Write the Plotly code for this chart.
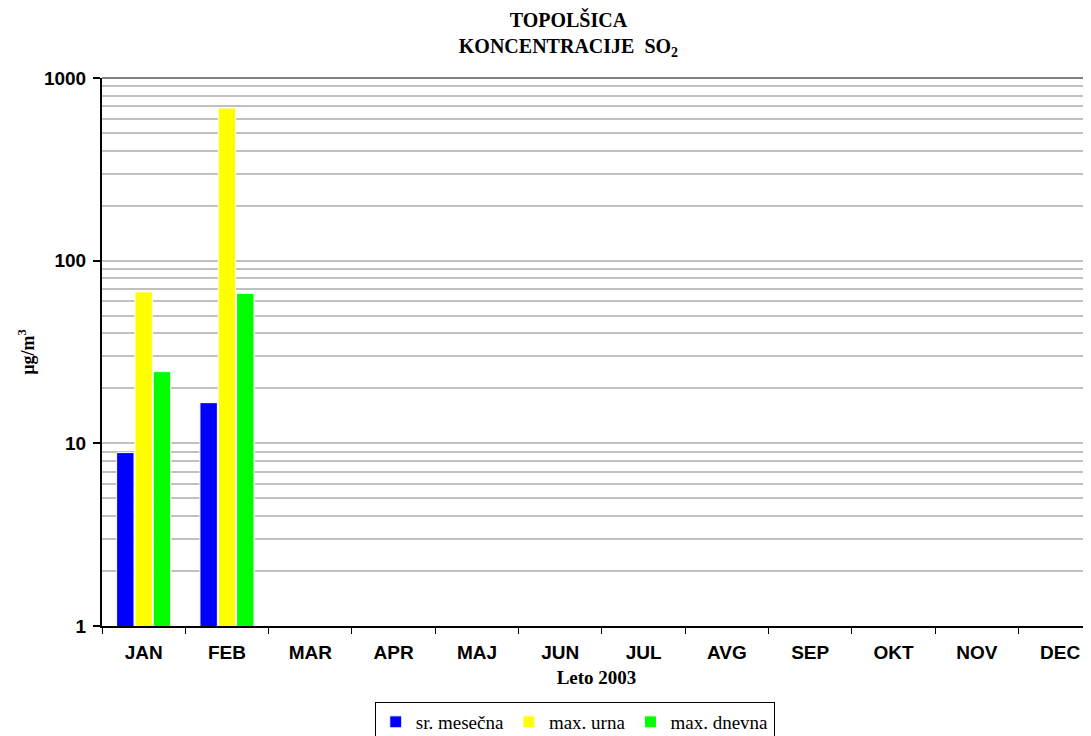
import plotly.graph_objects as go

MONTHS = ["JAN", "FEB", "MAR", "APR", "MAJ", "JUN", "JUL", "AVG", "SEP", "OKT", "NOV", "DEC"]
SR_MESECNA = [8.9, 16.7] + [None] * 10
MAX_URNA = [67.5, 685] + [None] * 10
MAX_DNEVNA = [24.7, 66.2] + [None] * 10

SERIES = [
    ("sr. mesečna", SR_MESECNA, "#0000FF"),
    ("max. urna", MAX_URNA, "#FFFF00"),
    ("max. dnevna", MAX_DNEVNA, "#00FF00"),
]

MINOR_VALS = [m * d for d in (1, 10, 100) for m in range(2, 10)]

SANS = "Arial, Liberation Sans, sans-serif"
SERIF = "Times New Roman, Liberation Serif, serif"

fig = go.Figure()
for name, vals, color in SERIES:
    fig.add_trace(go.Bar(
        name=name,
        x=MONTHS,
        y=vals,
        marker=dict(color=color, line=dict(color="white", width=1)),
    ))

# page body has an 8px margin, so the figure is a bit smaller than the window
fig.update_layout(
    width=1083,
    height=728,
    barmode="group",
    bargap=0.34,
    bargroupgap=0.05,
    plot_bgcolor="white",
    paper_bgcolor="white",
    margin=dict(l=94, r=0, t=70, b=110),
    title=dict(
        text="<b>TOPOLŠICA<br>KONCENTRACIJE  SO<sub>2</sub></b>",
        x=0.5175, xanchor="center", y=0.974, yanchor="top",
        font=dict(family=SERIF, size=20, color="black"),
    ),
    xaxis=dict(
        type="category",
        range=[-0.5, 11.37],
        showline=True, linecolor="black", linewidth=2,
        ticks="outside", ticklen=6, tickcolor="black", tickwidth=1,
        tickson="boundaries",
        ticklabelstandoff=8,
        showgrid=False,
        tickfont=dict(family=SANS, size=19, color="black", weight="bold"),
        title=dict(text="<b>Leto 2003</b>", standoff=9,
                   font=dict(family=SERIF, size=19, color="black")),
    ),
    yaxis=dict(
        type="log",
        range=[0, 3],
        tickvals=[1, 10, 100, 1000],
        ticktext=["1", "10", "100", "1000"],
        showline=True, linecolor="black", linewidth=2,
        ticks="outside", ticklen=7, tickcolor="black", tickwidth=2,
        ticklabelstandoff=3,
        showgrid=True, gridcolor="#c0c0c0", gridwidth=2,
        zeroline=False,
        tickfont=dict(family=SANS, size=19, color="black", weight="bold"),
        minor=dict(tickvals=MINOR_VALS, showgrid=True, gridcolor="#c0c0c0",
                   gridwidth=2, ticks=""),
        title=dict(text="<b>µg/m<sup>3</sup></b>", standoff=5,
                   font=dict(family=SERIF, size=18, color="black")),
    ),
    legend=dict(
        orientation="h",
        xref="paper", x=0.478, xanchor="center",
        yref="container", y=0.0467, yanchor="top",
        bordercolor="black", borderwidth=1,
        font=dict(family=SERIF, size=19, color="black"),
        itemwidth=30,
        tracegroupgap=0,
    ),
    showlegend=True,
)

# darker top border line at 1000
fig.add_shape(type="line", xref="paper", yref="paper", x0=0, x1=1, y0=1, y1=1,
              line=dict(color="#808080", width=2))

fig.write_html("out.html")
